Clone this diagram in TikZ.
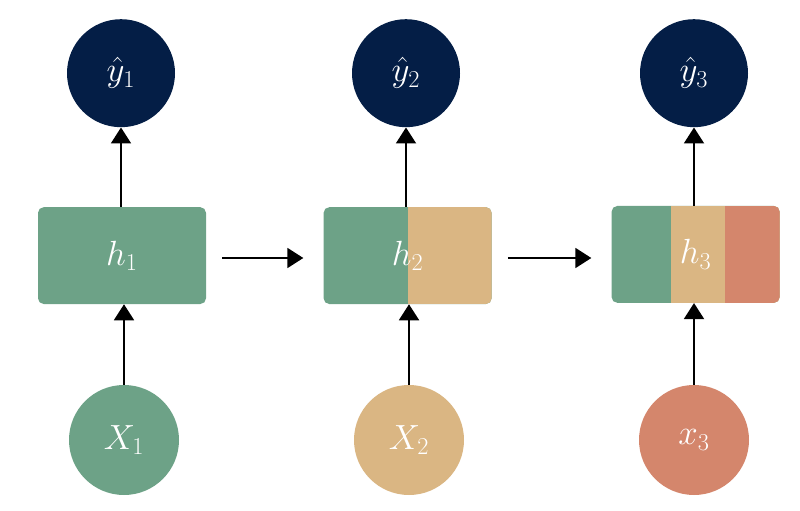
\documentclass[tikz,border=0pt]{standalone}
\usetikzlibrary{positioning,arrows.meta,calc}
\definecolor{rnnnavy}{RGB}{4,30,70}
\definecolor{rnngreen}{RGB}{109,162,135}
\definecolor{rnntan}{RGB}{218,182,131}
\definecolor{rnnsalmon}{RGB}{212,134,108}

\begin{document}
\begin{tikzpicture}[font=\fontsize{24}{28}\selectfont,
    outnode/.style={circle,fill=rnnnavy,minimum size=2.7cm,inner sep=0pt,text=white},
    innode/.style={circle,minimum size=2.75cm,inner sep=0pt,text=white},
    hidbox/.style={rectangle,rounded corners=4pt,minimum width=4.2cm,
                   minimum height=2.42cm,inner sep=0pt,text=white},
    flow/.style={-{Triangle[width=0.5cm,length=0.4cm]},line width=1.4pt}]
    \useasboundingbox (0,0) rectangle (20,12.75);
    % Hidden states
    \node[hidbox,fill=rnngreen] (h1) at (3.05,6.36) {$h_1$};
    \node[hidbox,fill=rnngreen,path picture={
        \fill[rnntan,sharp corners] (path picture bounding box.north)
            rectangle (path picture bounding box.south east);}]
        (h2) at (10.19,6.36) {$h_2$};
    \node[hidbox,fill=rnngreen,path picture={
        \fill[rnntan,sharp corners] ($(path picture bounding box.north west)!0.353!(path picture bounding box.north east)$)
            rectangle (path picture bounding box.south east);
        \fill[rnnsalmon,sharp corners] ($(path picture bounding box.north west)!0.677!(path picture bounding box.north east)$)
            rectangle (path picture bounding box.south east);}]
        (h3) at (17.39,6.39) {$h_3$};
    % Outputs
    \node[outnode] (y1) at (3.025,10.92) {$\hat{y}_1$};
    \node[outnode] (y2) at (10.15,10.92) {$\hat{y}_2$};
    \node[outnode] (y3) at (17.35,10.92) {$\hat{y}_3$};
    % Inputs
    \node[innode,fill=rnngreen] (x1) at (3.1,1.75) {$X_1$};
    \node[innode,fill=rnntan] (x2) at (10.225,1.75) {$X_2$};
    \node[innode,fill=rnnsalmon] (x3) at (17.35,1.75) {$x_3$};
    % Connectors
    \foreach \i in {1,2,3}{
        \draw[flow] (x\i) -- (x\i |- h\i.south);
        \draw[flow] (y\i |- h\i.north) -- (y\i);
    }
    \draw[flow,shorten <=0.4cm,shorten >=0.5cm] ([yshift=-0.06cm]h1.east) -- ([yshift=-0.06cm]h2.west);
    \draw[flow,shorten <=0.4cm,shorten >=0.5cm] ([yshift=-0.06cm]h2.east) -- ([yshift=-0.09cm]h3.west);
\end{tikzpicture}
\end{document}
